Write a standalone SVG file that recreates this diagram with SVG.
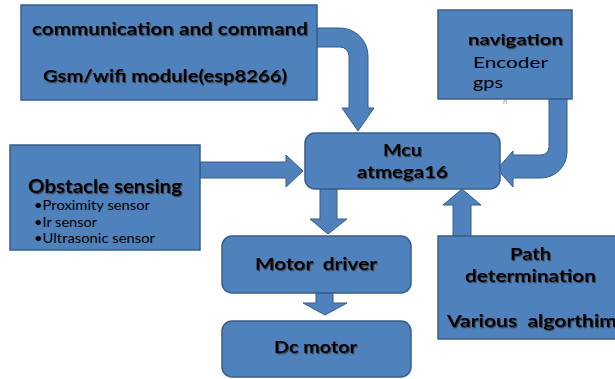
<svg xmlns="http://www.w3.org/2000/svg" width="615" height="379" viewBox="0 0 615 379">
<defs>
<filter id="sh" x="-5%" y="-20%" width="110%" height="150%">
<feDropShadow dx="1" dy="1.2" stdDeviation="0.6" flood-color="#333" flood-opacity="0.8"/>
</filter>
</defs>
<style>
.box{fill:#4F81BD;stroke:#385D8A;stroke-width:1.5}
.arr{fill:#4F81BD;stroke:#385D8A;stroke-width:1}
.b{font-family:Lato,"Liberation Sans",sans-serif;font-weight:bold;fill:#000;filter:url(#sh)}
.r{font-family:Lato,"Liberation Sans",sans-serif;fill:#000}
</style>
<rect width="615" height="379" fill="#fff"/>
<g id="connectors">
<path class="arr" d="M310 28 H340 A28 28 0 0 1 368 56 V108 H374 L358 131 L342 108 H349 V56 A9 9 0 0 0 340 47 H310 Z"/>
<path class="arr" d="M549 99 V147 A8 8 0 0 1 541 155 H513 V151 L497 169 L513 187 V178 H541 A26 26 0 0 0 567 152 V99 Z"/>
<path class="arr" d="M200 162 H286 V155 L303 171 L286 187 V178 H200 Z"/>
<path class="arr" d="M320 189 H337 V219 H347 L328 234 L310 219 H320 Z"/>
<path class="arr" d="M316 293 H333 V303 H347 L325 315 L303 303 H316 Z"/>
<path class="arr" d="M453 236 V205 H443 L462 189 L481 205 H471 V236 Z"/>
</g>
<g id="comm">
<rect class="box" x="21" y="5" width="296" height="95"/>
<text class="b" x="32" y="35" font-size="17" textLength="276" lengthAdjust="spacingAndGlyphs">communication and command</text>
<text class="b" x="43" y="82" font-size="17" textLength="244" lengthAdjust="spacingAndGlyphs">Gsm/wifi module(esp8266)</text>
</g>
<g id="navigation">
<rect class="box" x="438" y="10" width="134" height="89"/>
<text class="b" x="468" y="45" font-size="16" textLength="95" lengthAdjust="spacingAndGlyphs">navigation</text>
<text class="r" x="473" y="68" font-size="16" textLength="75" lengthAdjust="spacingAndGlyphs">Encoder</text>
<text class="r" x="473" y="88" font-size="16" textLength="30" lengthAdjust="spacingAndGlyphs">gps</text>
<text x="503" y="104" font-size="8" font-style="italic" fill="#999" font-family="Lato,sans-serif">n</text>
</g>
<g id="mcu">
<rect class="box" x="305" y="133" width="195" height="56" rx="10"/>
<text class="b" x="383" y="156" font-size="17" textLength="39" lengthAdjust="spacingAndGlyphs">Mcu</text>
<text class="b" x="357" y="178" font-size="17" textLength="91" lengthAdjust="spacingAndGlyphs">atmega16</text>
</g>
<g id="obstacle">
<rect class="box" x="10" y="145" width="190" height="105"/>
<text class="b" x="28" y="193" font-size="19" textLength="154" lengthAdjust="spacingAndGlyphs">Obstacle sensing</text>
<text class="r" x="34" y="210" font-size="12.5" textLength="116" lengthAdjust="spacingAndGlyphs">•Proximity sensor</text>
<text class="r" x="34" y="227" font-size="12.5" textLength="63" lengthAdjust="spacingAndGlyphs">•Ir sensor</text>
<text class="r" x="34" y="243" font-size="12.5" textLength="121" lengthAdjust="spacingAndGlyphs">•Ultrasonic sensor</text>
</g>
<g id="motordriver">
<rect class="box" x="222" y="236" width="189" height="57" rx="10"/>
<text class="b" x="255" y="270" font-size="17" textLength="122" lengthAdjust="spacingAndGlyphs" xml:space="preserve">Motor  driver</text>
</g>
<g id="dcmotor">
<rect class="box" x="222" y="321" width="189" height="56" rx="10"/>
<text class="b" x="274" y="353" font-size="17" textLength="83" lengthAdjust="spacingAndGlyphs">Dc motor</text>
</g>
<g id="path">
<rect class="box" x="438" y="236" width="182" height="103"/>
<text class="b" x="510" y="260" font-size="17" textLength="41" lengthAdjust="spacingAndGlyphs">Path</text>
<text class="b" x="465" y="282" font-size="17" textLength="131" lengthAdjust="spacingAndGlyphs">determination</text>
<text class="b" x="447" y="327" font-size="17" textLength="170" lengthAdjust="spacingAndGlyphs" xml:space="preserve">Various  algorthim</text>
</g>
</svg>
